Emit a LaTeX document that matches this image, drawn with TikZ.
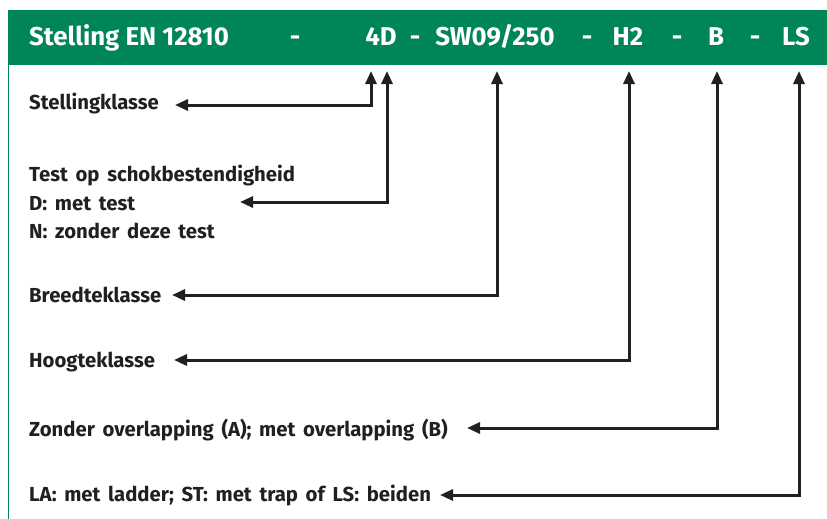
\documentclass[tikz,border=0pt]{standalone}
\usepackage{fontspec}
\setmainfont{Fira Sans}
\newfontfamily\labfont{Fira Sans}[WordSpace=1.6]
\usetikzlibrary{arrows.meta}
\definecolor{hdgreen}{RGB}{0,133,88}
\definecolor{ink}{RGB}{35,31,32}
\begin{document}
\begin{tikzpicture}[x=1pt,y=-1pt,
  lab/.style={anchor=base west,inner sep=0pt,text=ink,font=\labfont\bfseries\fontsize{20.3}{23}\selectfont},
  hd/.style={anchor=base,inner sep=0pt,text=white,font=\bfseries\fontsize{25.8}{30}\selectfont},
  arr/.style={draw=ink,line width=3pt,{Triangle[length=13pt,width=11pt]}-{Triangle[length=13pt,width=11pt]}}]
\useasboundingbox (0,0) rectangle (827,519);
\fill[white] (0,0) rectangle (827,519);
\fill[hdgreen] (8,10) rectangle (827,65);
\draw[hdgreen,line width=1.2pt] (8.6,10) -- (8.6,519);
% header
\node[hd,anchor=base west] (hname) at (29,46) {Stelling EN 12810};
\node[hd] (d1) at (295,46) {-};
\node[hd] (h4D) at (381,46) {4D};
\node[hd] (d2) at (415,46) {-};
\node[hd] (hSW) at (495,46) {SW09/250};
\node[hd] (d3) at (587,46) {-};
\node[hd] (hH) at (628,46) {H2};
\node[hd] (d4) at (677,46) {-};
\node[hd] (hB) at (716,46) {B};
\node[hd] (d5) at (755,46) {-};
\node[hd] (hLS) at (796,46) {LS};
% labels
\node[lab] (l1) at (29,109) {Stellingklasse};
\node[lab] (l2a) at (29,181) {Test op schokbestendigheid};
\node[lab] (l2) at (29,210) {D: met test};
\node[lab] (l2b) at (29,238) {N: zonder deze test};
\node[lab] (l3) at (29,302) {Breedteklasse};
\node[lab] (l4) at (29,367) {Hoogteklasse};
\node[lab] (l5) at (29,436) {Zonder overlapping (A); met overlapping (B)};
\node[lab] (l6) at (29,501) {LA: met ladder; ST: met trap of LS: beiden};
% arrow ends
\coordinate (t1) at (371,71);
\coordinate (t2) at (387,71);
\coordinate (t3) at (497,71);
\coordinate (t4) at (629,71);
\coordinate (t5) at (717,71);
\coordinate (t6) at (799,71);
\coordinate (e1) at (175,105);
\coordinate (e2) at (240,202);
\coordinate (e3) at (172,295);
\coordinate (e4) at (174,360);
\coordinate (e5) at (467,428);
\coordinate (e6) at (440,495);
\draw[arr] (e1) -| (t1);
\draw[arr] (e2) -| (t2);
\draw[arr] (e3) -| (t3);
\draw[arr] (e4) -| (t4);
\draw[arr] (e5) -| (t5);
\draw[arr] (e6) -| (t6);
\end{tikzpicture}
\end{document}
